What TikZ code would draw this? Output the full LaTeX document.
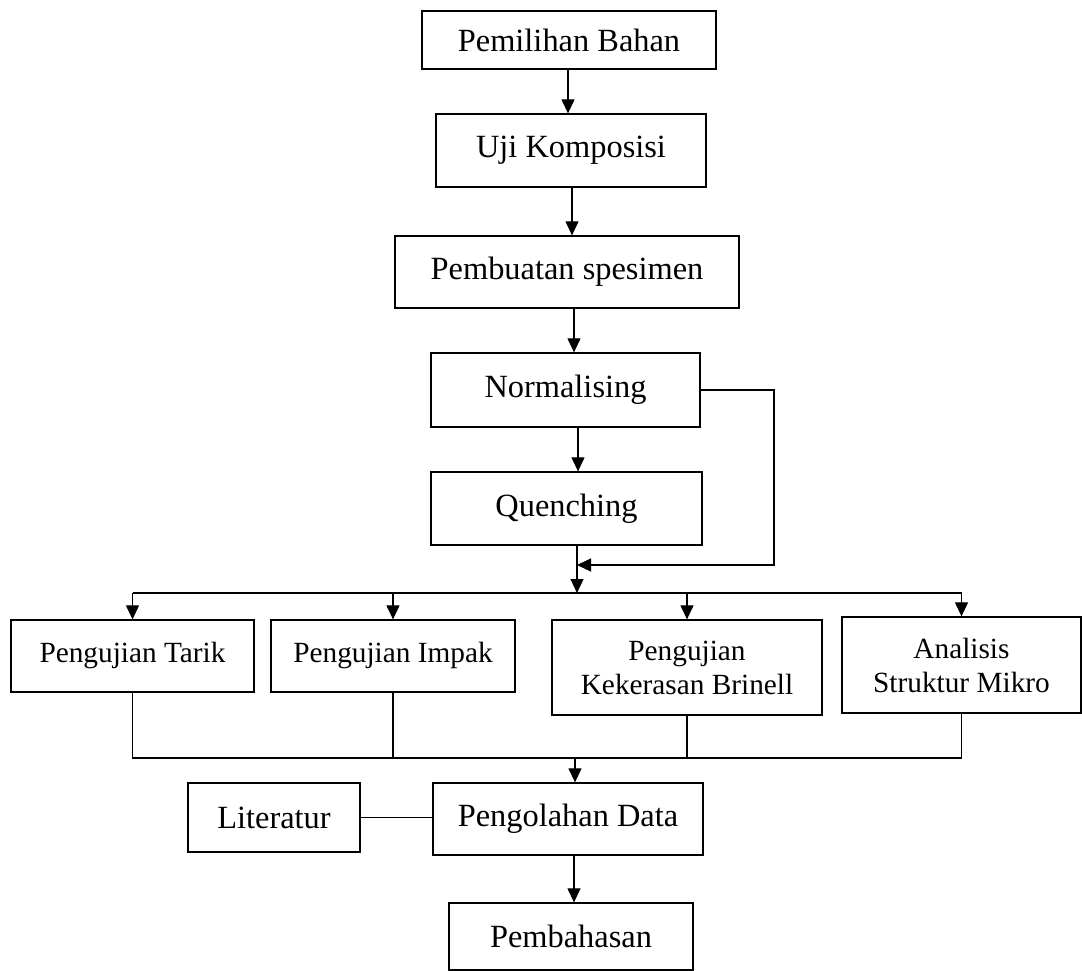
\documentclass[tikz,border=0pt]{standalone}
\usepackage{fontspec}
\setmainfont{Liberation Serif}
\usetikzlibrary{arrows.meta,calc}
\tikzset{
  box/.style={draw, line width=1.3pt, inner sep=0pt, align=center,
    font=\fontsize{32.4}{36}\selectfont},
  sbox/.style={box, font=\fontsize{29.3}{34}\selectfont},
  upshift/.style={text depth=0.65em},
  conn/.style={line width=1.2pt},
  arr/.style={conn, -{Triangle[length=14pt,width=13pt]}},
}
\begin{document}
\begin{tikzpicture}[x=1pt,y=-1pt]
\fill[white] (0,0) rectangle (1082,971);
\useasboundingbox (0,0) rectangle (1082,971);

\node[box, minimum width=294pt, minimum height=58pt] (b1) at (569,40) {Pemilihan Bahan};
\node[box, minimum width=270pt, minimum height=73pt] (b2) at (571,150.5) {Uji Komposisi};
\node[box, minimum width=344pt, minimum height=72pt] (b3) at (567,272) {Pembuatan spesimen};
\node[box, minimum width=269pt, minimum height=74pt] (b4) at (565.5,390) {Normalising};
\node[box, minimum width=271pt, minimum height=73pt] (b5) at (566.5,508.5) {Quenching};

\node[sbox, upshift, minimum width=243pt, minimum height=72pt] (b6) at (132.5,656) {Pengujian Tarik};
\node[sbox, upshift, minimum width=244pt, minimum height=72pt] (b7) at (393,656) {Pengujian Impak};
\node[sbox, minimum width=270pt, minimum height=95pt] (b8) at (687,667.5) {Pengujian\\Kekerasan Brinell};
\node[sbox, minimum width=239pt, minimum height=96pt] (b9) at (961.5,665) {Analisis\\Struktur Mikro};

\node[box, minimum width=172pt, minimum height=69pt] (b10) at (274,817.5) {Literatur};
\node[box, minimum width=270pt, minimum height=72pt] (b11) at (568,819) {Pengolahan Data};
\node[box, minimum width=244pt, minimum height=67pt] (b12) at (571,936.5) {Pembahasan};

% helper coordinates
\coordinate (x12) at (568,0);
\coordinate (x23) at (572,0);
\coordinate (x34) at (574,0);
\coordinate (x45) at (578,0);
\coordinate (dist) at (577,593);
\coordinate (lp) at (774,565);
\coordinate (col) at (575,758);
\coordinate (x1112) at (574,0);

\draw[arr] (b1.south -| x12) -- (b2.north -| x12);
\draw[arr] (b2.south -| x23) -- (b3.north -| x23);
\draw[arr] (b3.south -| x34) -- (b4.north -| x34);
\draw[arr] (b4.south -| x45) -- (b5.north -| x45);

\draw[arr] (b4.east) -- (b4.east -| lp) -- (lp) -- (lp -| dist);
\draw[arr] (b5.south -| dist) -- (dist);

\draw[conn] (b6.north |- dist) -- (b9.north |- dist);
\draw[arr] (b6.north |- dist) -- (b6.north);
\draw[arr] (b7.north |- dist) -- (b7.north);
\draw[arr] (b8.north |- dist) -- (b8.north);
\draw[arr] (b9.north |- dist) -- (b9.north);

\draw[conn] (b6.south) -- (b6.south |- col) -- (b9.south |- col) -- (b9.south);
\draw[conn] (b7.south) -- (b7.south |- col);
\draw[conn] (b8.south) -- (b8.south |- col);
\draw[arr] (col) -- (b11.north -| col);

\draw[conn] (b10.east) -- (b10.east -| b11.west);
\draw[arr] (b11.south -| x1112) -- (b12.north -| x1112);
\end{tikzpicture}
\end{document}
